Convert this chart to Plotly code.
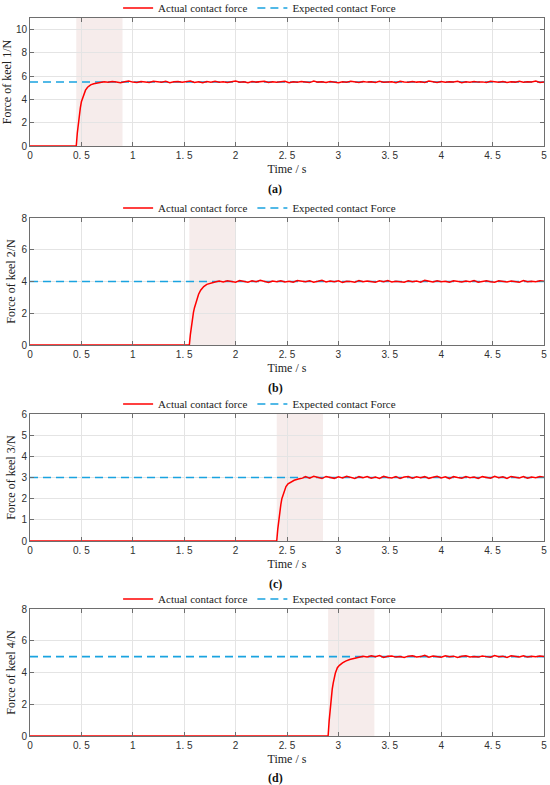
import numpy as np
import plotly.graph_objects as go

W, H = 550, 785

# ---------------- data ----------------
panel_labels = ["(a)", "(b)", "(c)", "(d)"]
y_titles = ["Force of keel 1/N", "Force of keel 2/N", "Force of keel 3/N", "Force of keel 4/N"]
expected_force = [5.5, 4.0, 3.0, 5.0]
y_max = [11, 8, 6, 8]
y_dtick = [2, 2, 1, 2]
shade_start = [0.45, 1.55, 2.40, 2.90]
shade_end = [0.90, 2.00, 2.85, 3.35]

x_tickvals = [0, 0.5, 1, 1.5, 2, 2.5, 3, 3.5, 4, 4.5, 5]
x_ticktext = ["0", "0. 5", "1", "1. 5", "2", "2. 5", "3", "3. 5", "4", "4. 5", "5"]

rise_t_a = [0, 0.45, 0.46, 0.47, 0.48, 0.49, 0.50, 0.52, 0.54, 0.56, 0.59, 0.62, 0.66, 0.70]
rise_f_a = [0, 0, 1.1, 2.0, 2.7, 3.3, 3.8, 4.4, 4.8, 5.05, 5.25, 5.35, 5.42, 5.46]
rise_t_b = [0, 1.55, 1.56, 1.57, 1.58, 1.59, 1.60, 1.62, 1.64, 1.66, 1.69, 1.72, 1.76, 1.80]
rise_f_b = [0, 0, 0.65, 1.2, 1.65, 2.05, 2.35, 2.85, 3.2, 3.45, 3.68, 3.82, 3.92, 3.97]
rise_t_c = [0, 2.40, 2.41, 2.42, 2.43, 2.44, 2.45, 2.47, 2.49, 2.51, 2.54, 2.57, 2.61, 2.65]
rise_f_c = [0, 0, 0.55, 1.0, 1.4, 1.72, 2.0, 2.35, 2.57, 2.7, 2.8, 2.87, 2.93, 2.97]
rise_t_d = [0, 2.90, 2.91, 2.92, 2.93, 2.94, 2.95, 2.97, 2.99, 3.01, 3.04, 3.07, 3.11, 3.16]
rise_f_d = [0, 0, 0.95, 1.75, 2.4, 2.95, 3.35, 3.95, 4.3, 4.45, 4.6, 4.72, 4.82, 4.9]

steady_start = [0.72, 1.84, 2.68, 3.20]
steady_end = 5.0

steady_a = [
    5.52, 5.47, 5.55, 5.50, 5.44, 5.53, 5.58, 5.49, 5.46, 5.54,
    5.51, 5.45, 5.57, 5.50, 5.48, 5.56, 5.43, 5.52, 5.55, 5.47,
    5.50, 5.59, 5.46, 5.51, 5.44, 5.54, 5.49, 5.56, 5.47, 5.53,
    5.45, 5.50, 5.58, 5.48, 5.52, 5.44, 5.55, 5.49, 5.51, 5.57,
    5.46, 5.53, 5.48, 5.50, 5.56, 5.43, 5.52, 5.47, 5.54, 5.50,
    5.45, 5.58, 5.49, 5.52, 5.46, 5.55, 5.51, 5.44, 5.53, 5.48,
    5.57, 5.50, 5.46, 5.54, 5.49, 5.52, 5.45, 5.56, 5.48, 5.51,
    5.53, 5.44, 5.57, 5.50, 5.47, 5.55, 5.49, 5.52, 5.46, 5.58,
    5.51, 5.45, 5.54, 5.48, 5.53, 5.50, 5.56, 5.44, 5.52, 5.47,
    5.55, 5.49, 5.51, 5.46, 5.57, 5.50, 5.48, 5.54, 5.45, 5.53,
    5.49, 5.56, 5.47, 5.52, 5.50, 5.58, 5.46, 5.51,
]
steady_b = [
    4.03, 3.97, 4.05, 4.00, 3.95, 4.06, 4.01, 3.96, 4.04, 3.98,
    4.07, 4.00, 3.94, 4.03, 3.99, 4.05, 3.97, 4.02, 3.95, 4.06,
    4.00, 3.98, 4.04, 3.96, 4.01, 4.07, 3.97, 4.03, 3.99, 4.05,
    3.94, 4.02, 4.00, 3.96, 4.06, 3.98, 4.03, 4.01, 3.95, 4.04,
    3.99, 4.06, 3.97, 4.02, 4.00, 3.95, 4.05, 3.98, 4.03, 3.96,
    4.07, 4.00, 3.97, 4.04, 3.99, 4.02, 3.95, 4.05, 4.01, 3.97,
    4.03, 3.98, 4.06, 3.96, 4.00, 4.04, 3.99, 3.95, 4.05, 4.02,
    3.97, 4.03, 4.00, 3.96, 4.06, 3.98, 4.02, 3.99, 4.04, 4.01,
]
steady_c = [
    3.04, 2.97, 3.06, 3.00, 2.95, 3.05, 3.01, 2.96, 3.03, 2.98,
    3.06, 3.00, 2.95, 3.04, 2.99, 3.05, 2.97, 3.02, 2.96, 3.06,
    3.00, 2.98, 3.04, 2.95, 3.02, 3.05, 2.97, 3.03, 2.99, 3.04,
    2.96, 3.01, 3.06, 2.98, 3.03, 2.95, 3.04, 3.00, 2.97, 3.05,
    2.99, 3.02, 2.96, 3.04, 3.01, 2.97, 3.06, 2.99, 3.03, 2.96,
    3.05, 3.00, 2.98, 3.04, 2.97, 3.02, 2.99, 3.05, 3.01,
]
steady_d = [
    4.96, 5.03, 4.98, 5.05, 4.99, 5.07, 4.95, 5.02, 5.04, 4.97,
    5.01, 4.94, 5.03, 5.06, 4.98, 5.00, 5.09, 4.97, 5.04, 5.01,
    4.96, 5.05, 4.99, 5.03, 4.95, 5.02, 5.06, 4.98, 5.01, 4.97,
    5.04, 5.00, 4.96, 5.07, 4.99, 5.03, 4.95, 5.05, 5.01, 4.98,
    5.06, 4.97, 5.02, 4.99, 5.04, 5.00,
]

rise_t = [rise_t_a, rise_t_b, rise_t_c, rise_t_d]
rise_f = [rise_f_a, rise_f_b, rise_f_c, rise_f_d]
steady = [steady_a, steady_b, steady_c, steady_d]

# ---------------- layout (pixels) ----------------
plot_left, plot_right = 30, 544
tops = [18, 218, 414, 609]
bottoms = [146, 345, 541, 736]
label_offset = [43, 43, 43, 42]

SERIF = "Liberation Serif"
SANS = "Liberation Sans"
RED = "#ff0000"
CYAN = "#1aa3e0"
GRID = "#e4e4e4"
AXC = "#6e6e6e"


def py(p):
    return 1 - p / H


fig = go.Figure()
layout = dict(
    width=W, height=H, margin=dict(l=0, r=0, t=0, b=0, autoexpand=False),
    paper_bgcolor="white", plot_bgcolor="white",
    showlegend=True, shapes=[], annotations=[],
)

for i in range(4):
    n = i + 1
    xa = "x" if n == 1 else f"x{n}"
    ya = "y" if n == 1 else f"y{n}"
    lg = "legend" if n == 1 else f"legend{n}"

    t_steady = np.round(np.linspace(steady_start[i], steady_end, len(steady[i])), 3)
    t_all = list(rise_t[i]) + list(t_steady)
    f_all = list(rise_f[i]) + list(steady[i])

    fig.add_trace(go.Scatter(
        x=[0, 5], y=[expected_force[i], expected_force[i]], mode="lines",
        line=dict(color=CYAN, width=1.6, dash="8px,5px"),
        name="Expected contact Force", xaxis=xa, yaxis=ya, legend=lg,
        legendrank=2, hoverinfo="skip",
    ))
    fig.add_trace(go.Scatter(
        x=t_all, y=f_all, mode="lines",
        line=dict(color=RED, width=1.5),
        name="Actual contact force", xaxis=xa, yaxis=ya, legend=lg,
        legendrank=1, hoverinfo="skip",
    ))

    dom_y = [py(bottoms[i]), py(tops[i])]
    axis_common = dict(
        showgrid=True, gridcolor=GRID, gridwidth=1,
        showline=True, linecolor=AXC, linewidth=1, mirror="ticks",
        ticks="inside", ticklen=4, tickcolor=AXC, zeroline=False,
        tickfont=dict(family=SANS, size=10, color="#303030"),
        automargin=False, ticklabeloverflow="allow",
    )
    layout["xaxis" if n == 1 else f"xaxis{n}"] = dict(
        axis_common, domain=[plot_left / W, plot_right / W], anchor=ya,
        range=[0, 5], tickvals=x_tickvals, ticktext=x_ticktext,
        title=dict(text="Time / s", font=dict(family=SERIF, size=12, color="#222"), standoff=4),
    )
    layout["yaxis" if n == 1 else f"yaxis{n}"] = dict(
        axis_common, domain=dom_y, anchor=xa,
        range=[0, y_max[i]], dtick=y_dtick[i], tick0=0,
        title=dict(text=y_titles[i], font=dict(family=SERIF, size=12, color="#222"), standoff=3),
    )
    layout[lg] = dict(
        orientation="h", x=0.472, xanchor="center", y=py(tops[i] - 10), yanchor="middle",
        bgcolor="rgba(0,0,0,0)", font=dict(family=SERIF, size=11, color="#222"),
        traceorder="normal", itemwidth=30,
    )
    layout["shapes"].append(dict(
        type="rect", xref=xa, yref=f"{ya} domain",
        x0=shade_start[i], x1=shade_end[i], y0=0, y1=1,
        fillcolor="#f6eceb", line=dict(width=0), layer="below",
    ))
    layout["annotations"].append(dict(
        text=f"<b>{panel_labels[i]}</b>", xref="paper", yref="paper",
        x=275 / W, y=py(bottoms[i] + label_offset[i]), xanchor="center", yanchor="middle",
        showarrow=False, font=dict(family=SERIF, size=12, color="#111"),
    ))

fig.update_layout(**layout)
fig.write_html(
    "out.html",
    config={"displayModeBar": False},
    post_script="document.body.style.margin='0';document.body.style.overflow='hidden';",
)
